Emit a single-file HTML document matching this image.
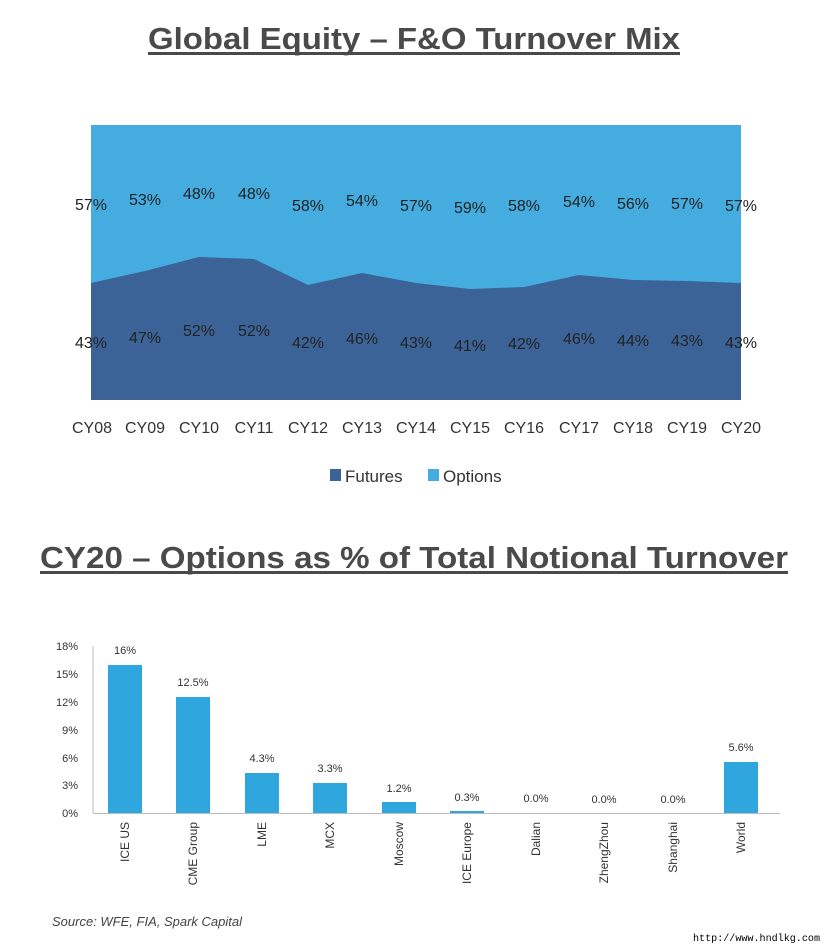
<!DOCTYPE html>
<html><head><style>
body{margin:0;background:#fff;width:828px;height:944px;overflow:hidden;}
svg{display:block;font-family:"Liberation Sans",sans-serif;}
</style></head><body>
<svg width="828" height="944" viewBox="0 0 828 944">
<text x="414" y="49" text-anchor="middle" font-size="31" font-weight="bold" fill="#4a4a4a" textLength="532" lengthAdjust="spacingAndGlyphs">Global Equity – F&amp;O Turnover Mix</text>
<rect x="148" y="52" width="532" height="3" fill="#4a4a4a"/>
<rect x="91" y="125" width="650" height="275" fill="#45ace0"/>
<polygon fill="#3b6397" points="91,283 145,271 199,257 254,259 308,285 362,273 416,283 470,289 524,287 579,275 633,280 687,281 741,283 741,400 91,400"/>
<g font-size="16" fill="#222" text-anchor="middle">
<text x="91" y="210">57%</text><text x="145" y="205">53%</text><text x="199" y="199">48%</text><text x="254" y="199">48%</text><text x="308" y="211">58%</text><text x="362" y="206">54%</text><text x="416" y="211">57%</text><text x="470" y="213">59%</text><text x="524" y="211">58%</text><text x="579" y="207">54%</text><text x="633" y="209">56%</text><text x="687" y="209">57%</text><text x="741" y="211">57%</text>
<text x="91" y="348">43%</text><text x="145" y="343">47%</text><text x="199" y="336">52%</text><text x="254" y="336">52%</text><text x="308" y="348">42%</text><text x="362" y="344">46%</text><text x="416" y="348">43%</text><text x="470" y="351">41%</text><text x="524" y="349">42%</text><text x="579" y="344">46%</text><text x="633" y="346">44%</text><text x="687" y="346">43%</text><text x="741" y="348">43%</text>
</g>
<g font-size="16" fill="#333" text-anchor="middle">
<text x="92" y="433">CY08</text><text x="145" y="433">CY09</text><text x="199" y="433">CY10</text><text x="254" y="433">CY11</text><text x="308" y="433">CY12</text><text x="362" y="433">CY13</text><text x="416" y="433">CY14</text><text x="470" y="433">CY15</text><text x="524" y="433">CY16</text><text x="579" y="433">CY17</text><text x="633" y="433">CY18</text><text x="687" y="433">CY19</text><text x="741" y="433">CY20</text>
</g>
<rect x="330" y="469" width="11" height="12" fill="#3b6397"/>
<text x="345" y="482" font-size="17" fill="#333">Futures</text>
<rect x="428" y="469" width="11" height="12" fill="#45ace0"/>
<text x="443" y="482" font-size="17" fill="#333">Options</text>

<text x="414" y="568" text-anchor="middle" font-size="31" font-weight="bold" fill="#4a4a4a" textLength="748" lengthAdjust="spacingAndGlyphs">CY20 – Options as % of Total Notional Turnover</text>
<rect x="40" y="571" width="748" height="3" fill="#4a4a4a"/>

<g font-size="11" fill="#333" text-anchor="end">
<text x="78" y="650">18%</text><text x="78" y="678">15%</text><text x="78" y="706">12%</text><text x="78" y="734">9%</text><text x="78" y="762">6%</text><text x="78" y="789">3%</text><text x="78" y="817">0%</text>
</g>
<line x1="93" y1="646" x2="93" y2="813" stroke="#bbb"/>
<line x1="93" y1="813.5" x2="780" y2="813.5" stroke="#bbb"/>
<g fill="#2fa6dd">
<rect x="108" y="665" width="34" height="148"/>
<rect x="176" y="697" width="34" height="116"/>
<rect x="245" y="773" width="34" height="40"/>
<rect x="313" y="783" width="34" height="30"/>
<rect x="382" y="802" width="34" height="11"/>
<rect x="450" y="811" width="34" height="2"/>
<rect x="724" y="762" width="34" height="51"/>
</g>
<g font-size="11" fill="#333" text-anchor="middle">
<text x="125" y="654">16%</text><text x="193" y="686">12.5%</text><text x="262" y="762">4.3%</text><text x="330" y="772">3.3%</text><text x="399" y="792">1.2%</text><text x="467" y="801">0.3%</text><text x="536" y="802">0.0%</text><text x="604" y="803">0.0%</text><text x="673" y="803">0.0%</text><text x="741" y="751">5.6%</text>
</g>
<g font-size="12" fill="#333" text-anchor="end">
<text transform="translate(129,822) rotate(-90)">ICE US</text>
<text transform="translate(197,822) rotate(-90)">CME Group</text>
<text transform="translate(266,822) rotate(-90)">LME</text>
<text transform="translate(334,822) rotate(-90)">MCX</text>
<text transform="translate(403,822) rotate(-90)">Moscow</text>
<text transform="translate(471,822) rotate(-90)">ICE Europe</text>
<text transform="translate(540,822) rotate(-90)">Dalian</text>
<text transform="translate(608,822) rotate(-90)">ZhengZhou</text>
<text transform="translate(677,822) rotate(-90)">Shanghai</text>
<text transform="translate(745,822) rotate(-90)">World</text>
</g>
<text x="52" y="926" font-size="13" font-style="italic" fill="#444">Source: WFE, FIA, Spark Capital</text>
<rect x="688" y="928" width="140" height="16" fill="#fff"/>
<text x="693" y="941" font-size="10.5" font-family="Liberation Mono,monospace" fill="#000" textLength="127" lengthAdjust="spacingAndGlyphs">http://www.hndlkg.com</text>
</svg>
</body></html>
